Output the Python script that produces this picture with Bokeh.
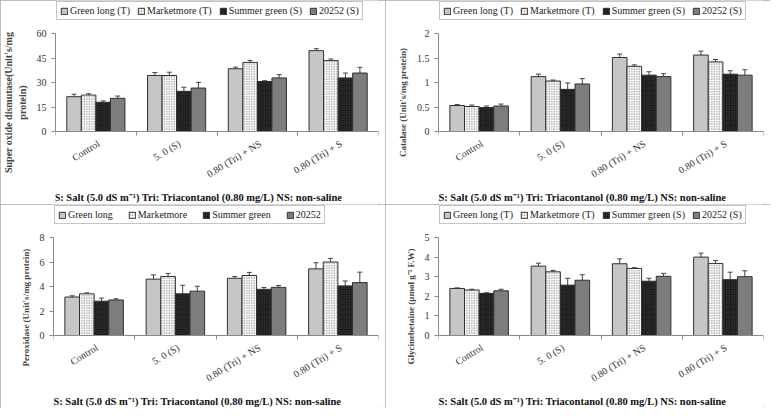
import numpy as np
from bokeh.plotting import figure
from bokeh.core.properties import value
from bokeh.models import (ColumnDataSource, Whisker, TeeHead, Legend, LegendItem,
                          FixedTicker, Range1d)
from bokeh.layouts import column, row
from bokeh.embed import file_html
from bokeh.resources import INLINE

# ---------------- data ----------------
treatments = ["Control", "5. 0 (S)", "0.80 (Tri) + NS", "0.80 (Tri) + S"]
cultivars_ts = ["Green long (T)", "Marketmore (T)", "Summer green (S)", "20252 (S)"]
cultivars_plain = ["Green long", "Marketmore", "Summer green", "20252"]

# rows: Green long, Marketmore, Summer green, 20252 ; columns: treatments
sod_values = [[21.3, 34.3, 38.4, 49.5],
              [22.3, 34.3, 42.3, 43.4],
              [17.9, 24.6, 30.6, 32.8],
              [20.3, 26.6, 32.8, 35.8]]
sod_errors = [[1.5, 1.8, 1.0, 1.2],
              [0.8, 2.0, 1.2, 1.0],
              [0.8, 2.5, 0.5, 3.0],
              [1.4, 3.5, 2.0, 3.5]]

cat_values = [[0.53, 1.12, 1.51, 1.56],
              [0.51, 1.03, 1.33, 1.42],
              [0.49, 0.86, 1.15, 1.17],
              [0.52, 0.97, 1.12, 1.15]]
cat_errors = [[0.02, 0.05, 0.07, 0.08],
              [0.03, 0.02, 0.03, 0.05],
              [0.03, 0.13, 0.07, 0.07],
              [0.04, 0.11, 0.06, 0.11]]

pox_values = [[3.14, 4.6, 4.67, 5.44],
              [3.4, 4.82, 4.9, 6.0],
              [2.8, 3.4, 3.77, 4.05],
              [2.9, 3.62, 3.93, 4.32]]
pox_errors = [[0.1, 0.35, 0.15, 0.5],
              [0.08, 0.25, 0.25, 0.3],
              [0.25, 0.7, 0.15, 0.4],
              [0.1, 0.4, 0.15, 0.85]]

gb_values = [[2.4, 3.54, 3.66, 4.0],
             [2.32, 3.25, 3.42, 3.67],
             [2.15, 2.57, 2.77, 2.85],
             [2.28, 2.82, 3.02, 3.0]]
gb_errors = [[0.03, 0.15, 0.25, 0.2],
             [0.04, 0.07, 0.04, 0.15],
             [0.03, 0.35, 0.15, 0.38],
             [0.08, 0.28, 0.15, 0.3]]

sod_ticks = [0, 15, 30, 45, 60]
cat_ticks = [0, 0.5, 1, 1.5, 2]
pox_ticks = [0, 2, 4, 6, 8]
gb_ticks = [0, 1, 2, 3, 4, 5]

footnote = "S: Salt (5.0 dS m\u207b\u00b9)   Tri: Triacontanol (0.80 mg/L) NS: non-saline"

# ---------------- styles ----------------
SERIF = "Liberation Serif"
styles = [
    dict(fill_color="#c6c6c6"),
    dict(fill_color="white", hatch_pattern="dot", hatch_color="#5a5a5a", hatch_scale=2.5, hatch_weight=1.5),
    dict(fill_color="#1c1c1c", hatch_pattern="dot", hatch_color="#454545", hatch_scale=2.5, hatch_weight=1.0),
    dict(fill_color="#7d7d7d"),
]
offsets = [-0.27, -0.09, 0.09, 0.27]
bar_w = 0.18

W, H = 385, 204
BL, BR = 53, 7
TOP_PX, ZERO_PX = 33, 131      # pixel rows of the top tick and of zero


def make_panel(values, errors, ticks, ylabel, labels, ylabel_size="9px", spacing=7):
    ymax = ticks[-1]
    data_px = ZERO_PX - TOP_PX
    y_end = ymax * (1 + TOP_PX / data_px)
    y_start = -ymax * (H - ZERO_PX) / data_px
    p = figure(width=W, height=H, output_backend="svg", toolbar_location=None,
               x_range=Range1d(0, 4), y_range=Range1d(y_start, y_end),
               title=None,
               min_border_left=BL, min_border_right=BR, min_border_top=0, min_border_bottom=0)
    p.grid.visible = False
    p.outline_line_color = None
    p.styles = {"outline": "2px solid #a8a8a8", "outline-offset": "-2px"}

    centers = np.arange(len(treatments)) + 0.5
    items = []
    for i in range(4):
        x = centers + offsets[i]
        v = np.array(values[i])
        e = np.array(errors[i])
        src = ColumnDataSource(dict(x=x, top=v, upper=v + e, lower=v - e))
        r = p.vbar(x="x", top="top", width=bar_w, bottom=0, source=src,
                   line_color="#303030", line_width=1, **styles[i])
        p.add_layout(Whisker(source=src, base="x", upper="upper", lower="lower",
                             line_color="#444444", line_width=1,
                             upper_head=TeeHead(size=5, line_color="#444444", line_width=1),
                             lower_head=TeeHead(size=5, line_color="#444444", line_width=1)))
        items.append(LegendItem(label=labels[i], renderers=[r]))

    # category labels, rotated, right end at the category centre
    lab_src = ColumnDataSource(dict(x=centers, y=np.zeros(len(centers)), t=treatments))
    p.text(x="x", y="y", text="t", source=lab_src, angle=0.55,
           text_align="right", text_baseline="middle", x_offset=3, y_offset=11,
           text_font=value(SERIF), text_font_size=value("10px"), text_color="#333333")

    # footnote, tied to the x axis
    note_src = ColumnDataSource(dict(x=[2.0], y=[0.0], t=[footnote]))
    p.text(x="x", y="y", text="t", source=note_src, x_offset=-16, y_offset=66,
           text_align="center", text_baseline="middle",
           text_font=value(SERIF), text_font_size=value("10.5px"),
           text_font_style="bold", text_color="#111111")

    yax = p.yaxis[0]
    yax.ticker = FixedTicker(ticks=ticks, minor_ticks=[])
    yax.bounds = (ticks[0], ymax)
    yax.axis_line_color = "#8a8a8a"
    yax.major_tick_line_color = "#8a8a8a"
    yax.major_tick_in = 0
    yax.major_tick_out = 4
    yax.major_label_text_font = SERIF
    yax.major_label_text_font_size = "10px"
    yax.major_label_text_color = "#333333"
    yax.axis_label = ylabel
    yax.axis_label_text_font = SERIF
    yax.axis_label_text_font_style = "bold"
    yax.axis_label_text_font_size = ylabel_size
    yax.axis_label_standoff = 6

    xax = p.xaxis[0]
    xax.fixed_location = 0
    xax.ticker = FixedTicker(ticks=[], minor_ticks=list(range(len(treatments) + 1)))
    xax.axis_line_color = "#8a8a8a"
    xax.major_tick_line_color = None
    xax.minor_tick_line_color = "#8a8a8a"
    xax.minor_tick_in = 0
    xax.minor_tick_out = 4

    leg = Legend(items=items, orientation="horizontal", location=(1, H - 20),
                 border_line_color="#8a8a8a", border_line_width=1,
                 background_fill_color="white", background_fill_alpha=1,
                 label_text_font=SERIF, label_text_font_size="10px",
                 label_text_color="#222222",
                 glyph_width=8, glyph_height=8, label_standoff=2, spacing=spacing,
                 padding=3, margin=0, label_height=10)
    p.add_layout(leg, "center")
    return p


p1 = make_panel(sod_values, sod_errors, sod_ticks,
                "Super oxide dismutase(Unit's/mg\nprotein)", cultivars_ts, ylabel_size="10px")
p2 = make_panel(cat_values, cat_errors, cat_ticks,
                "Catalase (Unit's/mg protein)", cultivars_ts)
p3 = make_panel(pox_values, pox_errors, pox_ticks,
                "Peroxidase  (Unit's/mg protein)", cultivars_plain, spacing=15)
p4 = make_panel(gb_values, gb_errors, gb_ticks,
                "Glycinebetaine (\u00b5mol g\u207b\u00b9 F.W)", cultivars_ts)

layout = column(row(p1, p2, spacing=0), row(p3, p4, spacing=0), spacing=0)

open("out.html", "w").write(file_html(layout, INLINE))
